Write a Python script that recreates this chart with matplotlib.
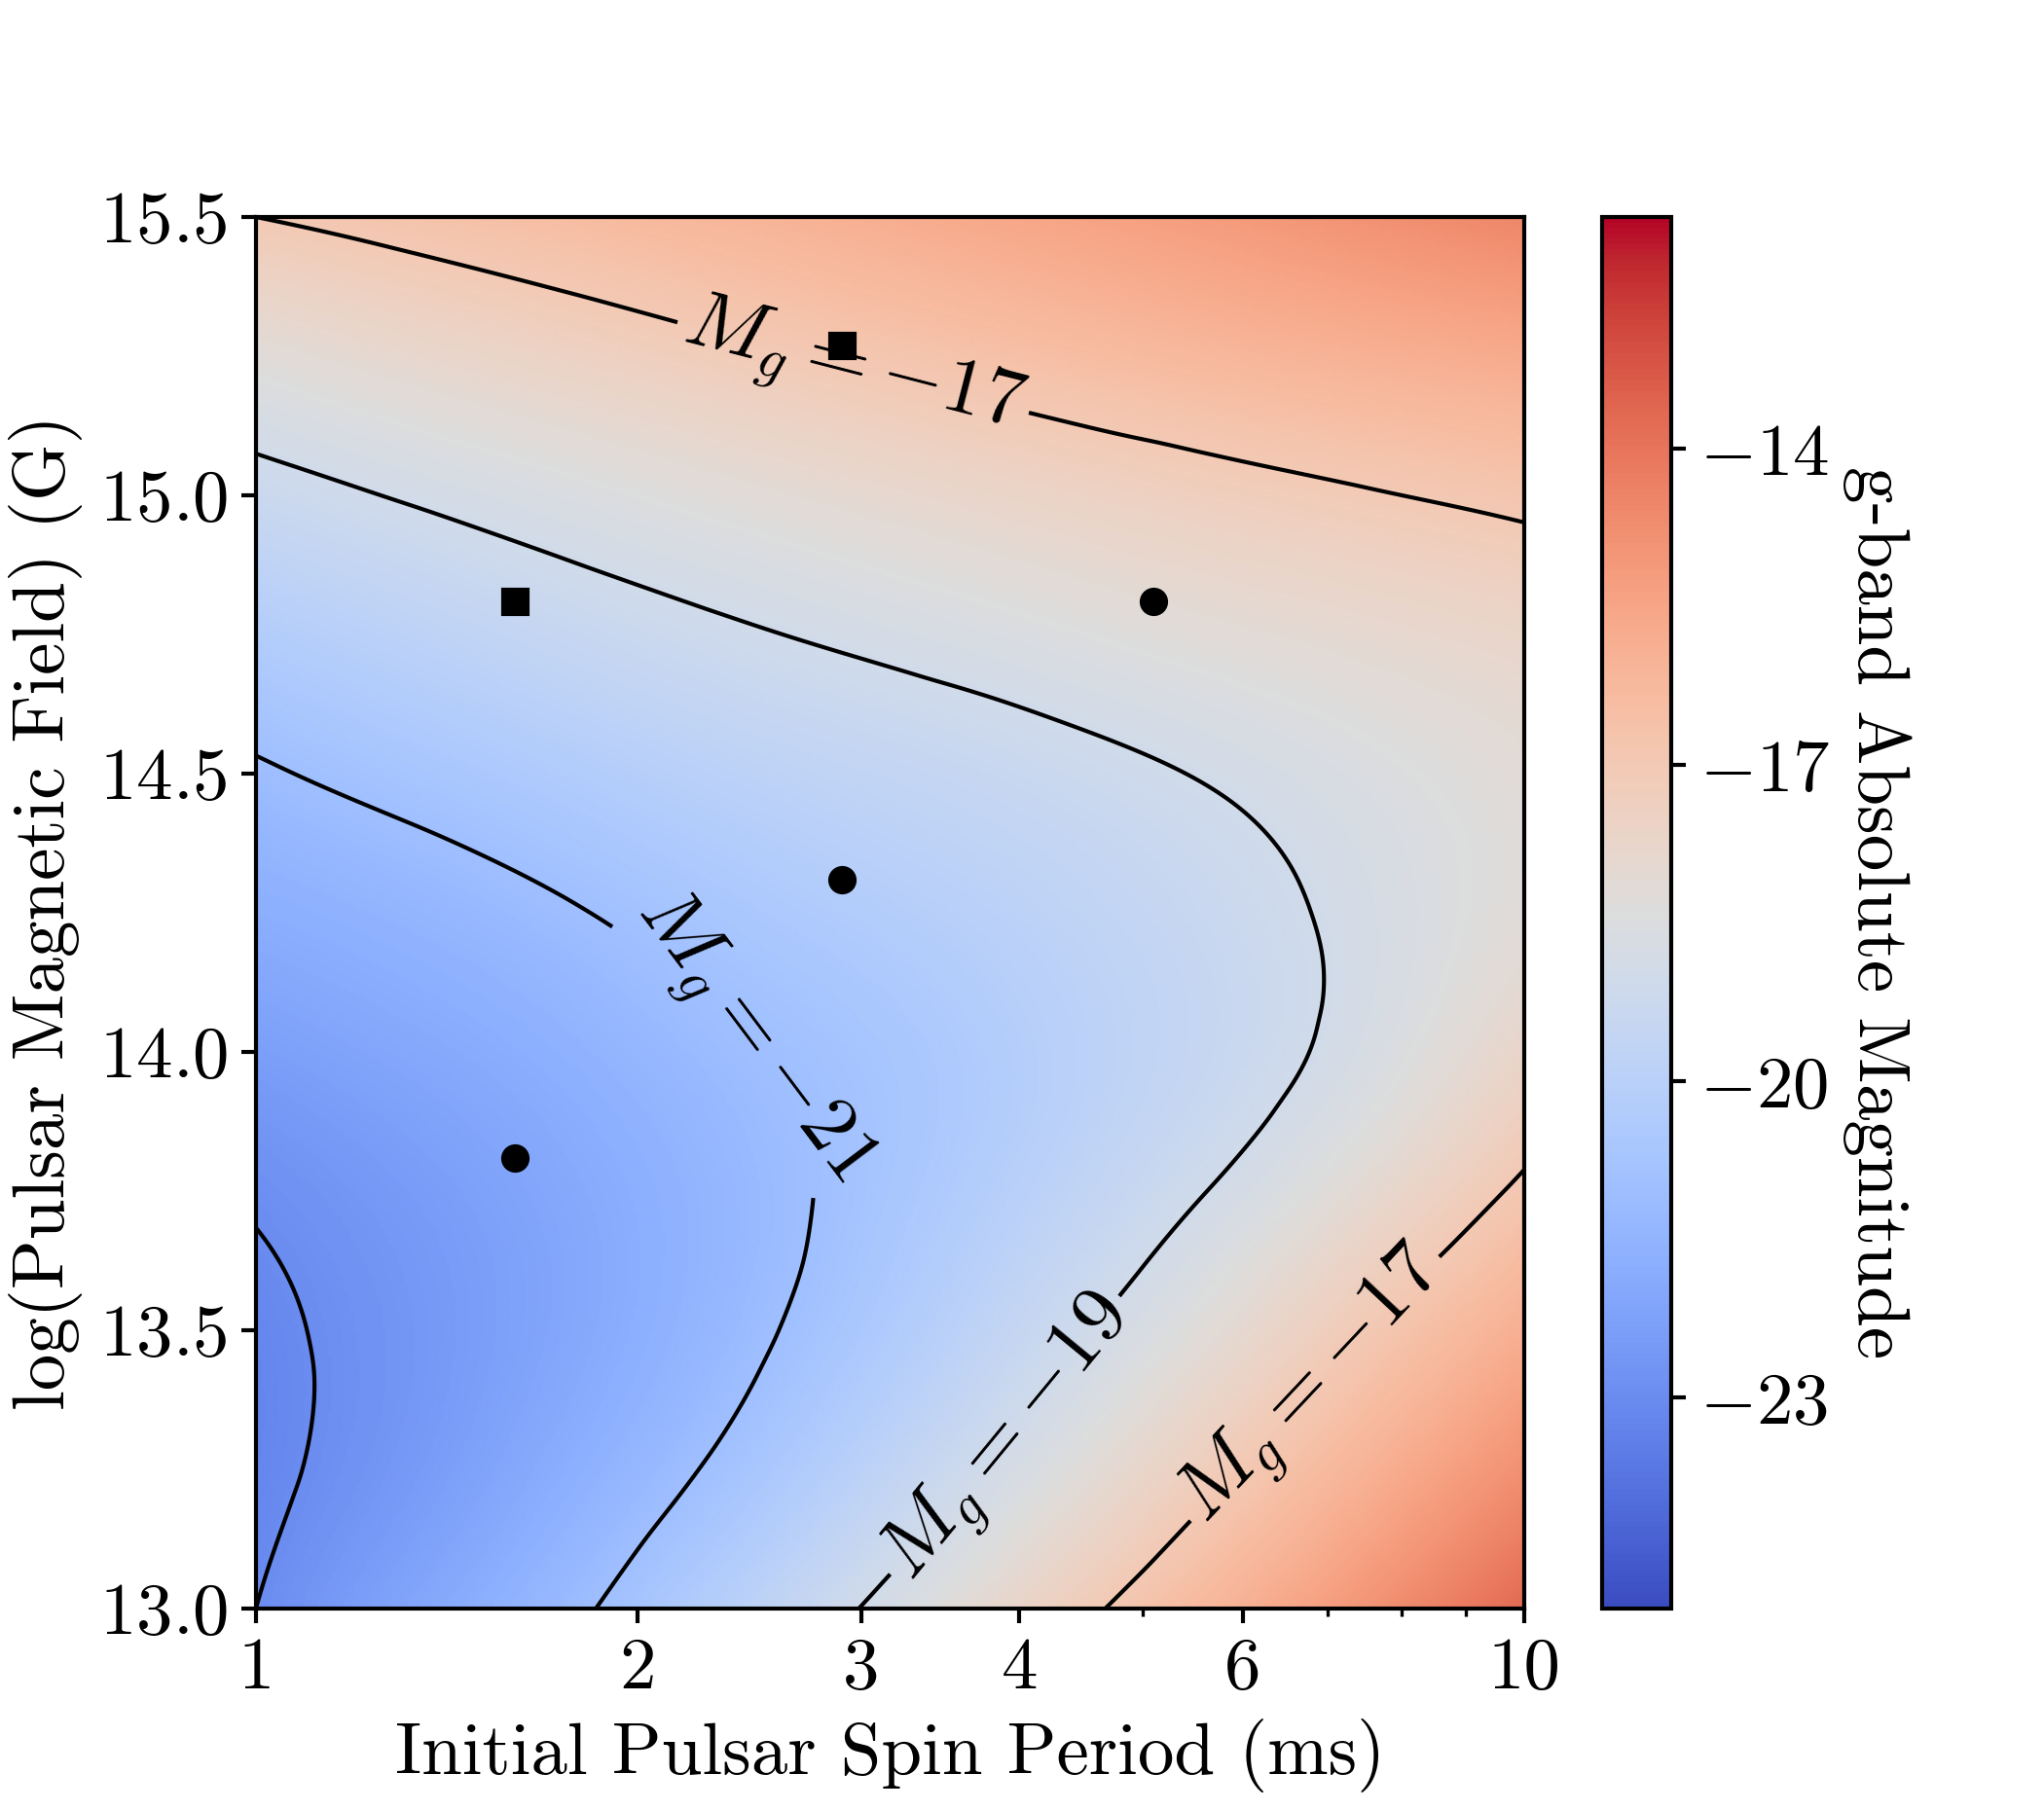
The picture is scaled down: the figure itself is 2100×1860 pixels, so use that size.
"""
g 波段绝对星等 - 脉冲星自转周期 / 磁场 平面图
"""
import numpy as np
import matplotlib
matplotlib.use('Agg')
import matplotlib.pyplot as plt
import matplotlib.tri as mtri
from matplotlib.ticker import NullFormatter

plt.rcParams['font.family'] = 'serif'
plt.rcParams['font.serif'] = ['cmr10']
plt.rcParams['mathtext.fontset'] = 'cm'
plt.rcParams['axes.formatter.use_mathtext'] = True

# 网格: 自转周期 (ms), log 磁场 (G)
periodGrid = [1.0, 1.334, 1.778, 2.371, 3.162, 4.217, 5.623, 7.499, 10.0]
fieldGrid = [13.0, 13.25, 13.5, 13.75, 14.0, 14.25, 14.5, 14.75, 15.0, 15.25, 15.5]
# 每行对应一个磁场值, 每列对应一个周期值
magGrid = [
    [-23.00, -22.05, -21.15, -20.00, -18.75, -17.45, -16.20, -14.95, -13.70],
    [-23.20, -22.50, -21.70, -20.80, -19.70, -18.50, -17.25, -16.00, -14.80],
    [-23.18, -22.62, -22.00, -21.25, -20.35, -19.30, -18.20, -17.00, -15.85],
    [-22.90, -22.45, -21.95, -21.35, -20.65, -19.85, -19.00, -18.00, -16.85],
    [-22.35, -22.00, -21.60, -21.10, -20.65, -20.05, -19.45, -18.70, -17.70],
    [-21.75, -21.45, -21.05, -20.60, -20.20, -19.80, -19.35, -18.80, -18.20],
    [-21.10, -20.70, -20.30, -19.90, -19.60, -19.30, -18.95, -18.55, -18.15],
    [-20.25, -19.85, -19.45, -19.10, -18.80, -18.50, -18.20, -17.95, -17.70],
    [-19.30, -18.92, -18.56, -18.22, -17.90, -17.60, -17.32, -17.06, -16.80],
    [-18.25, -17.85, -17.50, -17.15, -16.82, -16.50, -16.20, -15.94, -15.70],
    [-17.00, -16.70, -16.40, -16.10, -15.80, -15.50, -15.20, -14.85, -14.50],
]
plainLevels = [-23]
labelLevels = [-21, -19, -17]
labelSpots = [(2.95, 15.22), (2.45, 14.02), (3.95, 13.3), (6.8, 13.4)]

# 模型点
circleP = [1.6, 2.9, 5.1]
circleB = [13.81, 14.31, 14.81]
squareP = [1.6, 2.9]
squareB = [14.81, 15.27]

magMin, magMax = -25.0, -11.8
cbTicks = [-23, -20, -17, -14]

# 三角剖分 (log 周期空间), 三次插值画平滑场
uGrid = np.log10(periodGrid)
uu, bb = np.meshgrid(uGrid, fieldGrid)
nx, ny = len(periodGrid), len(fieldGrid)
tris = []
for j in range(ny - 1):
    for i in range(nx - 1):
        k = j * nx + i
        tris.append([k, k + 1, k + nx])
        tris.append([k + 1, k + nx + 1, k + nx])
triang = mtri.Triangulation(uu.ravel(), bb.ravel(), tris)
interp = mtri.CubicTriInterpolator(triang, np.array(magGrid).ravel(), kind='min_E')
uf, bf = np.meshgrid(np.linspace(0, 1, 400), np.linspace(13, 15.5, 400))
magFine = interp(uf, bf)

fig = plt.figure(figsize=(7, 6.2), dpi=300)
ax = fig.add_axes([0.1252, 0.1113, 0.6205, 0.7688])
cax = fig.add_axes([0.7838, 0.1113, 0.0338, 0.7688])

ax.set_xscale('log')
ax.set_xlim(1, 10)
ax.set_ylim(13, 15.5)

mesh = ax.pcolormesh(10 ** uf, bf, magFine, cmap='coolwarm', vmin=magMin, vmax=magMax,
                     shading='gouraud', rasterized=True)
ax.contour(10 ** uf, bf, magFine, levels=plainLevels, colors='k',
           linewidths=1.0, linestyles='solid')
cs = ax.contour(10 ** uf, bf, magFine, levels=labelLevels, colors='k',
                linewidths=1.0, linestyles='solid')
ax.clabel(cs, fmt=lambda v: r'$M_g = %d$' % v, fontsize=20,
          manual=labelSpots, inline=True, inline_spacing=8)

ax.plot(circleP, circleB, 'o', color='k', ms=6)
ax.plot(squareP, squareB, 's', color='k', ms=6)

ax.set_xticks([1, 2, 3, 4, 6, 10])
ax.set_xticklabels(['1', '2', '3', '4', '6', '10'])
ax.xaxis.set_minor_formatter(NullFormatter())
ax.set_yticks([13.0, 13.5, 14.0, 14.5, 15.0, 15.5])
ax.tick_params(labelsize=18, width=1.0)
ax.tick_params(which='minor', width=0.8)
for sp in ax.spines.values():
    sp.set_linewidth(1.0)
ax.set_xlabel('Initial Pulsar Spin Period (ms)', fontsize=18)
ax.set_ylabel('log(Pulsar Magnetic Field) (G)', fontsize=18)

cb = fig.colorbar(mesh, cax=cax)
cb.set_ticks(cbTicks)
cb.set_ticklabels([r'$%d$' % t for t in cbTicks])
cb.ax.tick_params(labelsize=18, width=1.0)
cb.outline.set_linewidth(1.0)
cb.set_label('g-band Absolute Magnitude', rotation=270, labelpad=20, fontsize=18)

fig.savefig('out.png', dpi=300)
